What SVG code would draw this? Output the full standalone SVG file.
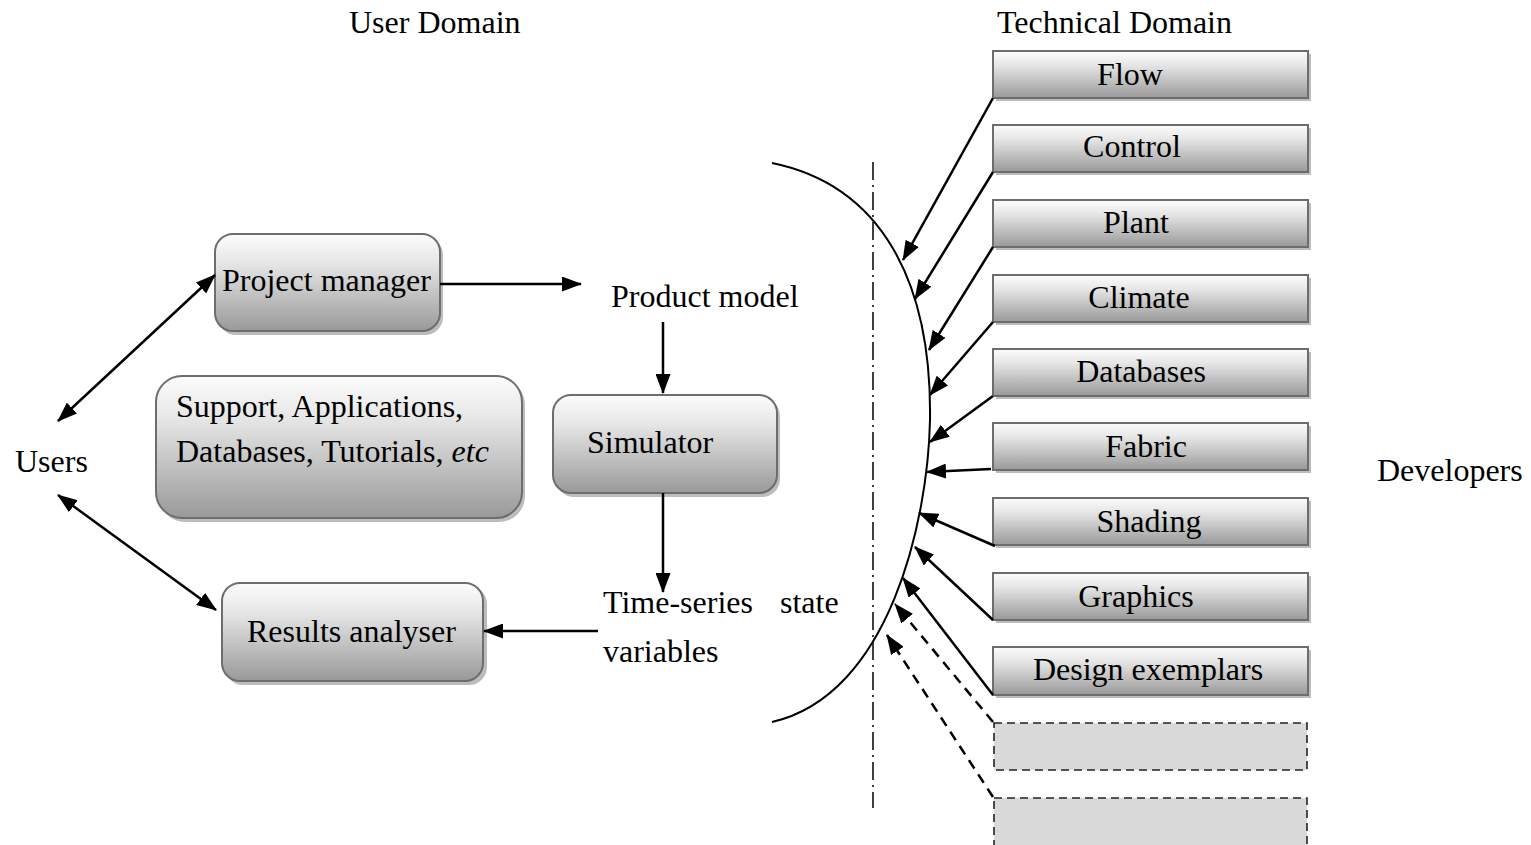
<svg xmlns="http://www.w3.org/2000/svg" width="1531" height="845" viewBox="0 0 1531 845">
  <defs>
    <linearGradient id="gradBox" x1="0" y1="0" x2="0" y2="1">
      <stop offset="0" stop-color="#fcfcfc"/>
      <stop offset="0.3" stop-color="#e6e6e6"/>
      <stop offset="1" stop-color="#999999"/>
    </linearGradient>
    <marker id="arrow" viewBox="0 0 20 15" refX="19" refY="7.5" markerWidth="20" markerHeight="15" markerUnits="userSpaceOnUse" orient="auto-start-reverse">
      <path d="M0,0 L20,7.5 L0,15 z" fill="#000"/>
    </marker>
    <style>
      text { font-family: "Liberation Serif", "Times New Roman", serif; font-size: 32px; fill: #000; }
      .lbl { text-anchor: middle; }
      .shadow { fill: #bcbcbc; }
      .node { fill: url(#gradBox); stroke: #6d6d6d; stroke-width: 2; }
      .empty { fill: #d9d9d9; stroke: #222; stroke-width: 1.6; stroke-dasharray: 8 5; }
      .conn { fill: none; stroke: #000; stroke-width: 2.5; }
      .dashed { stroke-dasharray: 10 7; }
    </style>
  </defs>

  <rect x="0" y="0" width="1531" height="845" fill="#fff"/>

  <!-- domain headings -->
  <g id="headings">
    <text x="349" y="33">User Domain</text>
    <text x="997" y="33">Technical Domain</text>
    <text x="15" y="472">Users</text>
    <text x="1377" y="481">Developers</text>
  </g>

  <!-- user-domain nodes -->
  <g id="project-manager">
    <rect class="shadow" x="218" y="237" width="225" height="98" rx="18"/>
    <rect class="node" x="215" y="234" width="225" height="97" rx="18"/>
    <text x="222" y="291">Project manager</text>
  </g>
  <g id="support">
    <rect class="shadow" x="159" y="379" width="366" height="143" rx="26"/>
    <rect class="node" x="156" y="376" width="366" height="142" rx="26"/>
    <text x="176" y="417">Support, Applications,</text>
    <text x="176" y="462">Databases, Tutorials, <tspan font-style="italic">etc</tspan></text>
  </g>
  <g id="simulator">
    <rect class="shadow" x="556" y="398" width="224" height="99" rx="18"/>
    <rect class="node" x="553" y="395" width="224" height="98" rx="18"/>
    <text x="587" y="453">Simulator</text>
  </g>
  <g id="results-analyser">
    <rect class="shadow" x="225" y="586" width="262" height="99" rx="18"/>
    <rect class="node" x="222" y="583" width="261" height="98" rx="18"/>
    <text x="247" y="642">Results analyser</text>
  </g>
  <g id="product-model">
    <text x="611" y="307">Product model</text>
  </g>
  <g id="time-series">
    <text x="603" y="613">Time-series</text>
    <text x="780" y="613">state</text>
    <text x="603" y="662">variables</text>
  </g>

  <!-- technical-domain modules -->
  <g id="flow">
    <rect class="shadow" x="996" y="54" width="315" height="47"/>
    <rect class="node" x="993" y="51" width="315" height="47"/>
    <text class="lbl" x="1130" y="85">Flow</text>
  </g>
  <g id="control">
    <rect class="shadow" x="996" y="128" width="315" height="47"/>
    <rect class="node" x="993" y="125" width="315" height="47"/>
    <text class="lbl" x="1132" y="157">Control</text>
  </g>
  <g id="plant">
    <rect class="shadow" x="996" y="203" width="315" height="47"/>
    <rect class="node" x="993" y="200" width="315" height="47"/>
    <text class="lbl" x="1136" y="233">Plant</text>
  </g>
  <g id="climate">
    <rect class="shadow" x="996" y="278" width="315" height="47"/>
    <rect class="node" x="993" y="275" width="315" height="47"/>
    <text class="lbl" x="1139" y="308">Climate</text>
  </g>
  <g id="databases">
    <rect class="shadow" x="996" y="352" width="315" height="47"/>
    <rect class="node" x="993" y="349" width="315" height="47"/>
    <text class="lbl" x="1141" y="382">Databases</text>
  </g>
  <g id="fabric">
    <rect class="shadow" x="996" y="426" width="315" height="47"/>
    <rect class="node" x="993" y="423" width="315" height="47"/>
    <text class="lbl" x="1146" y="457">Fabric</text>
  </g>
  <g id="shading">
    <rect class="shadow" x="996" y="501" width="315" height="47"/>
    <rect class="node" x="993" y="498" width="315" height="47"/>
    <text class="lbl" x="1149" y="532">Shading</text>
  </g>
  <g id="graphics">
    <rect class="shadow" x="996" y="576" width="315" height="47"/>
    <rect class="node" x="993" y="573" width="315" height="47"/>
    <text class="lbl" x="1136" y="607">Graphics</text>
  </g>
  <g id="design-exemplars">
    <rect class="shadow" x="996" y="650" width="315" height="48"/>
    <rect class="node" x="993" y="647" width="315" height="48"/>
    <text class="lbl" x="1148" y="680">Design exemplars</text>
  </g>
  <g id="future-1">
    <rect class="empty" x="994" y="723" width="313" height="47"/>
  </g>
  <g id="future-2">
    <rect class="empty" x="994" y="798" width="313" height="50"/>
  </g>

  <!-- domain boundary and interface curve -->
  <g id="boundary">
    <line x1="873" y1="162" x2="873" y2="808" stroke="#000" stroke-width="1.5" stroke-dasharray="18 5 2 5"/>
    <path d="M772,163 C880,185 932,280 930,420 C928,520 890,695 772,722" fill="none" stroke="#000" stroke-width="2"/>
  </g>

  <!-- connectors -->
  <g id="connectors">
    <line class="conn" x1="58" y1="421" x2="215" y2="275" marker-start="url(#arrow)" marker-end="url(#arrow)"/>
    <line class="conn" x1="58" y1="495" x2="216" y2="610" marker-start="url(#arrow)" marker-end="url(#arrow)"/>
    <line class="conn" x1="440" y1="284" x2="581" y2="284" marker-end="url(#arrow)"/>
    <line class="conn" x1="663" y1="322" x2="663" y2="393" marker-end="url(#arrow)"/>
    <line class="conn" x1="663" y1="493" x2="663" y2="592" marker-end="url(#arrow)"/>
    <line class="conn" x1="598" y1="631" x2="484" y2="631" marker-end="url(#arrow)"/>

    <line class="conn" x1="993" y1="98" x2="903" y2="260" marker-end="url(#arrow)"/>
    <line class="conn" x1="993" y1="172" x2="915" y2="299" marker-end="url(#arrow)"/>
    <line class="conn" x1="993" y1="247" x2="929" y2="350" marker-end="url(#arrow)"/>
    <line class="conn" x1="993" y1="322" x2="930" y2="395" marker-end="url(#arrow)"/>
    <line class="conn" x1="993" y1="396" x2="930" y2="442" marker-end="url(#arrow)"/>
    <line class="conn" x1="991" y1="469" x2="927" y2="472" marker-end="url(#arrow)"/>
    <line class="conn" x1="995" y1="546" x2="919" y2="513" marker-end="url(#arrow)"/>
    <line class="conn" x1="993" y1="620" x2="915" y2="547" marker-end="url(#arrow)"/>
    <line class="conn" x1="993" y1="695" x2="903" y2="578" marker-end="url(#arrow)"/>
    <line class="conn dashed" x1="993" y1="722" x2="895" y2="604" marker-end="url(#arrow)"/>
    <line class="conn dashed" x1="993" y1="797" x2="887" y2="635" marker-end="url(#arrow)"/>
  </g>
</svg>
